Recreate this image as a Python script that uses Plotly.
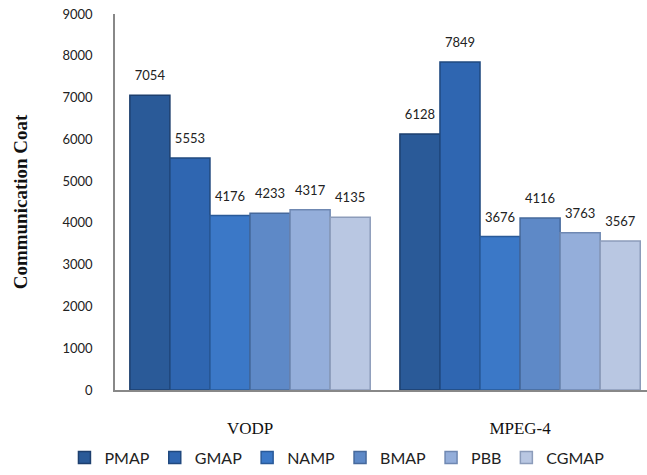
import plotly.graph_objects as go

categories = ["VODP", "MPEG-4"]
series = ["PMAP", "GMAP", "NAMP", "BMAP", "PBB", "CGMAP"]
values = {
    "PMAP": [7054, 6128],
    "GMAP": [5553, 7849],
    "NAMP": [4176, 3676],
    "BMAP": [4233, 4116],
    "PBB": [4317, 3763],
    "CGMAP": [4135, 3567],
}
colors = ["#2a5a98", "#2f66b1", "#3b78c7", "#5e89c7", "#94aeda", "#b9c7e2"]
edges = ["#1d3f6e", "#20497f", "#295a99", "#46699c", "#6f88b2", "#8c9cba"]

fig = go.Figure()
for name, c, e in zip(series, colors, edges):
    fig.add_trace(go.Bar(
        name=name, x=categories, y=values[name],
        marker=dict(color=c, line=dict(color=e, width=1.5)),
        offsetgroup=name,
    ))
# value labels, lifted above the bars by an invisible marker
for name in series:
    fig.add_trace(go.Scatter(
        x=categories, y=values[name], mode="markers+text",
        text=[str(v) for v in values[name]], textposition="top center",
        marker=dict(size=17, opacity=0), offsetgroup=name,
        textfont=dict(family="Lato", size=13, color="#222"),
        showlegend=False, hoverinfo="skip", cliponaxis=False,
    ))

fig.update_layout(
    width=647, height=475,
    barmode="group", bargap=0.11, bargroupgap=0,
    scattermode="group", scattergap=0.11,
    paper_bgcolor="white", plot_bgcolor="white",
    margin=dict(l=115, r=0, t=14, b=85, autoexpand=False),
    showlegend=True,
    legend=dict(orientation="h", x=-0.095, xanchor="left",
                y=-0.18, yanchor="middle",
                font=dict(family="Lato", size=16, color="#222"),
                itemwidth=30, tracegroupgap=0),
    yaxis=dict(range=[0, 9000], dtick=1000, showgrid=False, zeroline=False,
               showline=True, linecolor="#888", linewidth=1.5, automargin=False,
               ticks="", ticklabelstandoff=18,
               tickfont=dict(family="Lato", size=13, color="#222"),
               title=dict(text="<b>Communication Coat</b>", standoff=30,
                          font=dict(family="Liberation Serif", size=19, color="#111"))),
    xaxis=dict(range=[-0.5, 1.47], showline=True, linecolor="#888", linewidth=1.5,
               ticks="", automargin=False,
               tickfont=dict(family="Liberation Serif", size=17, color="#111"),
               ticklabelstandoff=22),
)

# drop the default 8px page margin so the figure fills the window
fig.write_html("out.html", config={"displayModeBar": False},
               post_script="document.body.style.margin='0';")
